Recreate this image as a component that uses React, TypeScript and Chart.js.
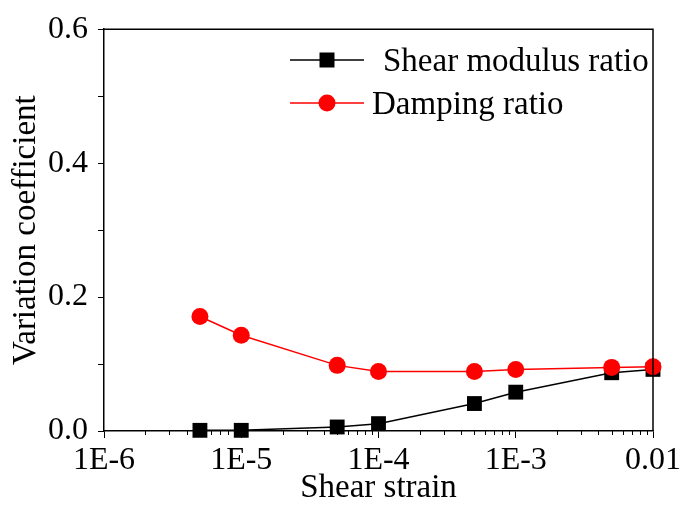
import React, { useEffect, useRef } from "react";
import { Chart, registerables } from "chart.js";

Chart.register(...registerables);

const strain = [5e-6, 1e-5, 5e-5, 1e-4, 5e-4, 1e-3, 5e-3, 1e-2];
const shearModulusRatio = [0.001, 0.001, 0.006, 0.011, 0.041, 0.058, 0.087, 0.092];
const dampingRatio = [0.171, 0.143, 0.098, 0.089, 0.089, 0.092, 0.095, 0.096];

const xTickValues = [1e-6, 1e-5, 1e-4, 1e-3, 1e-2];
const xTickLabels = ["1E-6", "1E-5", "1E-4", "1E-3", "0.01"];
const yTickValues = [0, 0.1, 0.2, 0.3, 0.4, 0.5, 0.6];
const yTickLabels = ["0.0", "", "0.2", "", "0.4", "", "0.6"];

const legendItems = [
  { label: "Shear modulus ratio", color: "#000000", style: "rect" },
  { label: "Damping ratio", color: "#ff0000", style: "circle" },
];

const FONT = "'Liberation Serif', 'Times New Roman', serif";

const decorPlugin = {
  id: "decor",
  afterDraw(chart: any) {
    const { ctx, chartArea } = chart;
    const xs = chart.scales.x;
    ctx.save();
    ctx.strokeStyle = "#000";
    ctx.lineWidth = 1.5;
    ctx.beginPath();
    ctx.moveTo(chartArea.left, chartArea.top);
    ctx.lineTo(chartArea.right, chartArea.top);
    ctx.lineTo(chartArea.right, chartArea.bottom);
    ctx.stroke();
    // minor x ticks
    ctx.lineWidth = 1;
    ctx.beginPath();
    for (let e = -6; e <= -3; e++) {
      for (let m = 2; m <= 9; m++) {
        const px = Math.round(xs.getPixelForValue(m * Math.pow(10, e))) + 0.5;
        ctx.moveTo(px, chartArea.bottom);
        ctx.lineTo(px, chartArea.bottom + 4);
      }
    }
    ctx.stroke();
    // legend
    const rows = [60, 103];
    const textX = [383, 372];
    const lx0 = chartArea.left + 186;
    const lx1 = chartArea.left + 260;
    const mx = (lx0 + lx1) / 2;
    ctx.font = `33px ${FONT}`;
    ctx.textBaseline = "middle";
    ctx.textAlign = "left";
    legendItems.forEach((it, i) => {
      const y = rows[i];
      ctx.strokeStyle = it.color;
      ctx.fillStyle = it.color;
      ctx.lineWidth = 1.5;
      ctx.beginPath();
      ctx.moveTo(lx0, y);
      ctx.lineTo(lx1, y);
      ctx.stroke();
      ctx.beginPath();
      if (it.style === "rect") {
        ctx.rect(mx - 7.5, y - 7.5, 15, 15);
      } else {
        ctx.arc(mx, y, 8.5, 0, Math.PI * 2);
      }
      ctx.fill();
      ctx.fillStyle = "#000";
      ctx.fillText(it.label, textX[i], y + 2);
    });
    ctx.restore();
  },
};

export default function App() {
  const ref = useRef<HTMLCanvasElement>(null);
  useEffect(() => {
    if (!ref.current) return;
    const chart = new Chart(ref.current, {
      type: "line",
      data: {
        datasets: [
          {
            label: "Shear modulus ratio",
            data: strain.map((x, i) => ({ x, y: shearModulusRatio[i] })),
            borderColor: "#000000",
            backgroundColor: "#000000",
            borderWidth: 1.5,
            pointStyle: "rect",
            pointRadius: 10.5,
            pointBorderWidth: 0,
            order: 2,
            clip: false,
          },
          {
            label: "Damping ratio",
            data: strain.map((x, i) => ({ x, y: dampingRatio[i] })),
            borderColor: "#ff0000",
            backgroundColor: "#ff0000",
            borderWidth: 1.5,
            pointStyle: "circle",
            pointRadius: 8.5,
            pointBorderWidth: 0,
            order: 1,
            clip: false,
          },
        ],
      },
      options: {
        animation: false,
        responsive: false,
        layout: { padding: { top: 20, right: 26, left: 0, bottom: 0 } },
        plugins: { legend: { display: false }, tooltip: { enabled: false } },
        scales: {
          x: {
            type: "logarithmic",
            min: 1e-6,
            max: 1e-2,
            afterBuildTicks: (scale: any) => {
              scale.ticks = xTickValues.map((v) => ({ value: v, major: true }));
            },
            afterFit: (scale: any) => {
              scale.height = 75;
            },
            grid: { drawOnChartArea: false, color: "#000", tickLength: 7, lineWidth: 1 },
            border: { display: true, color: "#000", width: 1.5 },
            ticks: {
              autoSkip: false,
              maxRotation: 0,
              color: "#000",
              padding: 3,
              font: { family: FONT, size: 32 },
              callback: (_v: any, i: number) => xTickLabels[i],
            },
            title: {
              display: true,
              text: "Shear strain",
              color: "#000",
              font: { family: FONT, size: 33, lineHeight: 1 },
              padding: { top: 0, bottom: 1 },
            },
          },
          y: {
            min: 0,
            max: 0.6,
            afterBuildTicks: (scale: any) => {
              scale.ticks = yTickValues.map((v) => ({ value: v }));
            },
            afterFit: (scale: any) => {
              scale.width = 104;
            },
            grid: { drawOnChartArea: false, color: "#000", tickLength: 6, lineWidth: 1 },
            border: { display: true, color: "#000", width: 1.5 },
            ticks: {
              color: "#000",
              padding: 10,
              font: { family: FONT, size: 32 },
              callback: (_v: any, i: number) => yTickLabels[i],
            },
            title: {
              display: true,
              text: "Variation coefficient",
              color: "#000",
              font: { family: FONT, size: 33, lineHeight: 1 },
              padding: { top: 10, bottom: 0 },
            },
          },
        },
      },
      plugins: [decorPlugin],
    });
    return () => chart.destroy();
  }, []);
  return (
    <div style={{ position: "absolute", left: 0, top: 0, width: 684, height: 506, background: "#fff" }}>
      <canvas ref={ref} width={684} height={506} />
    </div>
  );
}
